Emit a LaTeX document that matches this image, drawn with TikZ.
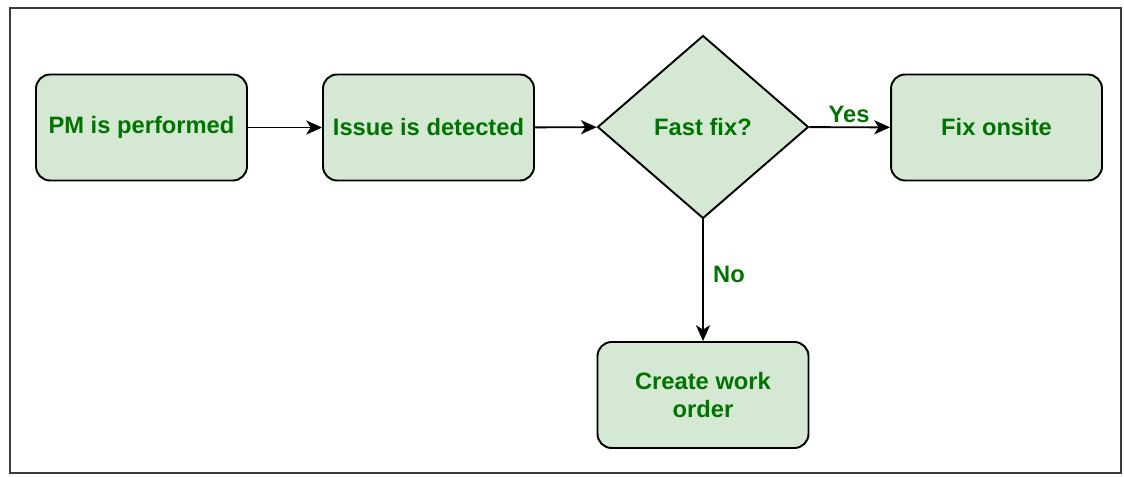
\documentclass[tikz,border=0pt]{standalone}
\usepackage{fontspec}
\setmainfont{Liberation Sans}
\usepackage{tikz}
\usetikzlibrary{arrows.meta,positioning,shapes.geometric}
\definecolor{boxfill}{RGB}{213,232,212}
\definecolor{boxtext}{RGB}{0,115,0}
\definecolor{framegray}{RGB}{60,60,60}

\begin{document}
\begin{tikzpicture}[x=0.02cm,y=-0.02cm,
  stepbox/.style={draw=black,fill=boxfill,line width=1.1pt,rounded corners=8pt,
    minimum width=4.22cm,minimum height=2.12cm,align=center,text=boxtext,
    font=\fontsize{13.5}{15.5}\selectfont\bfseries},
  decide/.style={diamond,draw=black,fill=boxfill,line width=1.1pt,
    minimum width=4.22cm,minimum height=3.66cm,inner sep=0pt,text=boxtext,
    font=\fontsize{13.5}{15.5}\selectfont\bfseries},
  lbl/.style={text=boxtext,font=\fontsize{13.5}{15.5}\selectfont\bfseries},
  every edge/.append style={line width=1.1pt}]
\useasboundingbox (0,0) rectangle (1124,476);
\draw[framegray,line width=1.2pt] (10,8) rectangle (1121,473);
\node[stepbox] (pm) at (141.5,127.5) {PM is performed};
\node[stepbox] (issue) at (428.5,127.5) {Issue is detected};
\node[decide] (fast) at (703,127) {Fast fix?};
\node[stepbox] (onsite) at (996.5,127.5) {Fix onsite};
\node[stepbox] (order) at (703,395) {Create work\\order};
\node[lbl] (yes) at (849,114) {Yes};
\node[lbl] (no) at (729,274) {No};
\path[-{Stealth[length=9pt,width=8pt,inset=2.5pt]}]
(pm) edge (issue)
(issue) edge (fast)
(fast) edge (onsite)
(fast) edge (order);
\end{tikzpicture}
\end{document}
